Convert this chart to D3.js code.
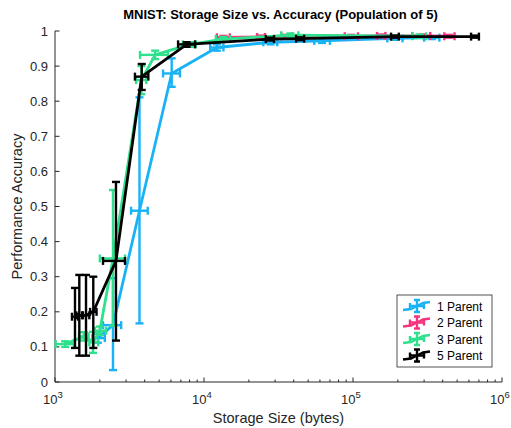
<!DOCTYPE html>
<html>
<head>
<meta charset="utf-8">
<script src="https://cdn.jsdelivr.net/npm/d3@7"></script>
<style>
  html, body { margin: 0; padding: 0; background: #fff; }
  svg { display: block; font-family: "Liberation Sans", Arial, Helvetica, sans-serif; }
</style>
</head>
<body>
<svg id="chart" width="511" height="428"></svg>
<script>
// Each row: [storage bytes, accuracy, accuracy low, accuracy high, bytes low, bytes high]
const oneParent = [
  [1940, 0.125, 0.112, 0.138, 1780, 2160],
  [2450, 0.162, 0.034, 0.296, 2100, 2780],
  [3690, 0.488, 0.167, 0.811, 3240, 4190],
  [6070, 0.879, 0.841, 0.922, 5310, 6900],
  [12200, 0.953, 0.944, 0.962, 11000, 13500],
  [28000, 0.968, 0.962, 0.975, 25000, 31000],
  [62000, 0.972, 0.966, 0.978, 55000, 70000],
  [190000, 0.979, 0.975, 0.984, 170000, 215000],
  [340000, 0.981, 0.977, 0.985, 300000, 380000]
];
const twoParent = [
  [13500, 0.982, 0.978, 0.986, 12200, 14900],
  [24000, 0.983, 0.979, 0.987, 22700, 25700],
  [36000, 0.985, 0.981, 0.989, 33000, 39000],
  [97000, 0.985, 0.981, 0.989, 88000, 108000],
  [155000, 0.986, 0.982, 0.990, 145000, 165000],
  [290000, 0.986, 0.982, 0.990, 250000, 330000],
  [440000, 0.985, 0.981, 0.989, 410000, 480000]
];
const threeParent = [
  [1170, 0.108, 0.100, 0.116, 1010, 1340],
  [1560, 0.130, 0.118, 0.142, 1450, 1680],
  [1800, 0.113, 0.083, 0.143, 1700, 1950],
  [2000, 0.146, 0.134, 0.158, 1850, 2200],
  [2450, 0.352, 0.160, 0.547, 2000, 2950],
  [3800, 0.860, 0.820, 0.900, 3500, 4100],
  [4700, 0.932, 0.920, 0.944, 3720, 5730],
  [8000, 0.962, 0.955, 0.968, 7200, 8800],
  [13500, 0.977, 0.970, 0.983, 12000, 15000],
  [38000, 0.988, 0.982, 0.993, 33000, 43000],
  [280000, 0.985, 0.980, 0.990, 250000, 310000]
];
const fiveParent = [
  [1362, 0.186, 0.097, 0.268, 1300, 1430],
  [1456, 0.190, 0.075, 0.305, 1390, 1520],
  [1615, 0.190, 0.075, 0.305, 1540, 1700],
  [1807, 0.200, 0.097, 0.300, 1720, 1900],
  [2566, 0.345, 0.118, 0.570, 2100, 2950],
  [3820, 0.870, 0.832, 0.906, 3440, 4230],
  [7650, 0.962, 0.955, 0.968, 6700, 8700],
  [27700, 0.977, 0.973, 0.981, 26000, 29500],
  [44100, 0.978, 0.974, 0.982, 41500, 47000],
  [191000, 0.984, 0.981, 0.987, 180000, 203000],
  [659000, 0.984, 0.981, 0.987, 620000, 700000]
];

const seriesNames = ["1 Parent", "2 Parent", "3 Parent", "5 Parent"];
const seriesColors = ["#19b3f5", "#f5347f", "#2fe08c", "#000000"];
const seriesData = [oneParent, twoParent, threeParent, fiveParent];

const xTickExponents = [3, 4, 5, 6];
const yTicks = [0, 0.1, 0.2, 0.3, 0.4, 0.5, 0.6, 0.7, 0.8, 0.9, 1];

const titleText = "MNIST: Storage Size vs. Accuracy (Population of 5)";
const xLabelText = "Storage Size (bytes)";
const yLabelText = "Performance Accuracy";

const svg = d3.select("#chart");
const plotLeft = 55, plotRight = 502, plotTop = 31, plotBottom = 382;

const x = d3.scaleLog().domain([1e3, 1e6]).range([plotLeft, plotRight]);
const y = d3.scaleLinear().domain([0, 1]).range([plotBottom, plotTop]);

// Axes (left and bottom only, ticks pointing inward)
const axisColor = "#262626";
const g = svg.append("g");

// Y axis
g.append("line").attr("x1", plotLeft).attr("x2", plotLeft).attr("y1", plotTop).attr("y2", plotBottom)
  .attr("stroke", axisColor).attr("stroke-width", 1);
yTicks.forEach(t => {
  g.append("line").attr("x1", plotLeft).attr("x2", plotLeft + 4.5)
    .attr("y1", y(t)).attr("y2", y(t)).attr("stroke", axisColor);
  g.append("text").attr("x", plotLeft - 7).attr("y", y(t) + 4.5)
    .attr("text-anchor", "end").attr("font-size", 13).attr("fill", axisColor)
    .text(d3.format("~g")(t));
});

// X axis
g.append("line").attr("x1", plotLeft).attr("x2", plotRight).attr("y1", plotBottom).attr("y2", plotBottom)
  .attr("stroke", axisColor).attr("stroke-width", 1);
const minorTicks = [];
for (let e = 3; e < 6; e++) for (let m = 2; m <= 9; m++) minorTicks.push(m * Math.pow(10, e));
minorTicks.forEach(t => {
  g.append("line").attr("x1", x(t)).attr("x2", x(t)).attr("y1", plotBottom).attr("y2", plotBottom - 2.5)
    .attr("stroke", axisColor);
});
xTickExponents.forEach(e => {
  const v = Math.pow(10, e);
  g.append("line").attr("x1", x(v)).attr("x2", x(v)).attr("y1", plotBottom).attr("y2", plotBottom - 4.5)
    .attr("stroke", axisColor);
  const t = g.append("text").attr("x", x(v) - 2).attr("y", plotBottom + 22)
    .attr("text-anchor", "middle").attr("font-size", 13).attr("fill", axisColor);
  t.append("tspan").text("10");
  t.append("tspan").attr("dy", -6).attr("font-size", 9.5).text(e);
});

// Axis labels and title
svg.append("text").attr("x", (plotLeft + plotRight) / 2).attr("y", 423)
  .attr("text-anchor", "middle").attr("font-size", 14.5).attr("fill", axisColor).text(xLabelText);
svg.append("text").attr("transform", `translate(22,${(plotTop + plotBottom) / 2}) rotate(-90)`)
  .attr("text-anchor", "middle").attr("font-size", 14.5).attr("fill", axisColor).text(yLabelText);
svg.append("text").attr("x", (plotLeft + plotRight) / 2 + 2).attr("y", 19)
  .attr("text-anchor", "middle").attr("font-size", 13).attr("font-weight", "bold")
  .attr("fill", "#000").text(titleText);

// Series: connecting line plus vertical and horizontal error bars with caps
const line = d3.line().x(d => x(d[0])).y(d => y(d[1]));
const cap = 4;
seriesData.forEach((data, i) => {
  const col = seriesColors[i];
  const sg = svg.append("g");
  sg.append("path").datum(data).attr("d", line).attr("fill", "none")
    .attr("stroke", col).attr("stroke-width", 2.8).attr("stroke-linejoin", "round");
  const bars = sg.selectAll("g.eb").data(data).join("g").attr("class", "eb")
    .attr("stroke", col).attr("stroke-width", 2.4);
  bars.append("line").attr("x1", d => x(d[0])).attr("x2", d => x(d[0]))
    .attr("y1", d => y(d[2])).attr("y2", d => y(d[3]));
  bars.append("line").attr("x1", d => x(d[0]) - cap).attr("x2", d => x(d[0]) + cap)
    .attr("y1", d => y(d[2])).attr("y2", d => y(d[2]));
  bars.append("line").attr("x1", d => x(d[0]) - cap).attr("x2", d => x(d[0]) + cap)
    .attr("y1", d => y(d[3])).attr("y2", d => y(d[3]));
  bars.append("line").attr("x1", d => x(d[4])).attr("x2", d => x(d[5]))
    .attr("y1", d => y(d[1])).attr("y2", d => y(d[1]));
  bars.append("line").attr("x1", d => x(d[4])).attr("x2", d => x(d[4]))
    .attr("y1", d => y(d[1]) - cap).attr("y2", d => y(d[1]) + cap);
  bars.append("line").attr("x1", d => x(d[5])).attr("x2", d => x(d[5]))
    .attr("y1", d => y(d[1]) - cap).attr("y2", d => y(d[1]) + cap);
});

// Legend
const lg = svg.append("g").attr("transform", "translate(397,295)");
lg.append("rect").attr("width", 95).attr("height", 72).attr("fill", "#fff")
  .attr("stroke", "#262626").attr("stroke-width", 0.8);
seriesNames.forEach((name, i) => {
  const cy = 11 + i * 16.5;
  const col = seriesColors[i];
  const ig = lg.append("g").attr("stroke", col).attr("stroke-width", 2.4).attr("fill", "none");
  ig.append("path").attr("d", `M6,${cy + 4} L14,${cy + 3} L20,${cy} L26,${cy - 3} L33,${cy - 4}`);
  ig.append("path").attr("d", `M13,${cy} H27 M13,${cy - 3} V${cy + 3} M27,${cy - 3} V${cy + 3}`);
  ig.append("path").attr("d", `M20,${cy - 6} V${cy + 6} M17,${cy - 6} H23 M17,${cy + 6} H23`);
  lg.append("text").attr("x", 40).attr("y", cy + 4.5).attr("font-size", 12)
    .attr("fill", "#000").text(name);
});
</script>
</body>
</html>
